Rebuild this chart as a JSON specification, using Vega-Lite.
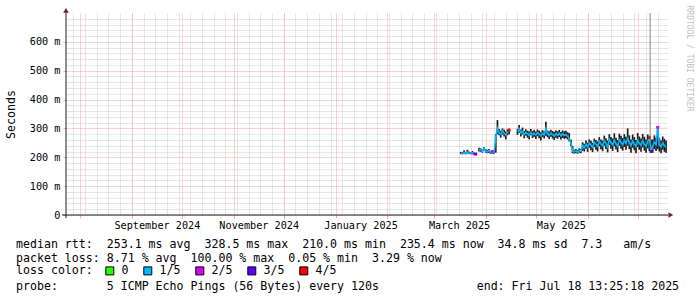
{
  "$schema": "https://vega.github.io/schema/vega-lite/v6.json",
  "width": 601,
  "height": 202,
  "autosize": {"type": "none"},
  "padding": {"left": 66, "top": 13, "right": 30, "bottom": 82},
  "background": "white",
  "config": {"view": {"stroke": null}, "font": "DejaVu Sans Mono"},
  "title": {
    "text": ["median rtt:\u00a0\u00a0253.1 ms avg\u00a0\u00a0328.5 ms max\u00a0\u00a0210.0 ms min\u00a0\u00a0235.4 ms now\u00a0\u00a034.8 ms sd\u00a0\u00a07.3\u00a0\u00a0\u00a0am/s", "packet loss: 8.71 % avg\u00a0\u00a0100.00 % max\u00a0\u00a00.05 % min\u00a0\u00a03.29 % now"],
    "subtitle": "probe:\u00a0\u00a0\u00a0\u00a0\u00a0\u00a0\u00a05 ICMP Echo Pings (56 Bytes) every 120s\u00a0\u00a0\u00a0\u00a0\u00a0\u00a0\u00a0\u00a0\u00a0\u00a0\u00a0\u00a0\u00a0\u00a0end: Fri Jul 18 13:25:18 2025",
    "orient": "bottom",
    "anchor": "start",
    "frame": "group",
    "dx": -50,
    "offset": -38,
    "font": "DejaVu Sans Mono",
    "fontSize": 11.6,
    "fontWeight": "normal",
    "color": "black",
    "lineHeight": 14,
    "subtitleFont": "DejaVu Sans Mono",
    "subtitleFontSize": 11.6,
    "subtitleColor": "black",
    "subtitleLineHeight": 14,
    "subtitlePadding": 16
  },
  "datasets": {
    "spike": [{"t": "2025-07-08T12:00:00Z", "lo": 254, "hi": 700}],
    "rtt": [
      {"t": "2025-03-17", "med": 215, "lo": 211, "hi": 219, "loss": "1/5", "seg": 1},
      {"t": "2025-03-18", "med": 213, "lo": 210, "hi": 218, "loss": "1/5", "seg": 1},
      {"t": "2025-03-19", "med": 217, "lo": 212, "hi": 224, "loss": "1/5", "seg": 1},
      {"t": "2025-03-20", "med": 214, "lo": 210, "hi": 219, "loss": "1/5", "seg": 1},
      {"t": "2025-03-21", "med": 218, "lo": 213, "hi": 226, "loss": "1/5", "seg": 1},
      {"t": "2025-03-22", "med": 215, "lo": 211, "hi": 220, "loss": "1/5", "seg": 1},
      {"t": "2025-03-23", "med": 213, "lo": 210, "hi": 217, "loss": "1/5", "seg": 1},
      {"t": "2025-03-24", "med": 216, "lo": 212, "hi": 222, "loss": "1/5", "seg": 1},
      {"t": "2025-03-25", "med": 212, "lo": 210, "hi": 216, "loss": "2/5", "seg": 1},
      {"t": "2025-03-26", "med": 211, "lo": 210, "hi": 215, "loss": "3/5", "seg": 1},
      {"t": "2025-03-28", "med": 228, "lo": 220, "hi": 233, "loss": "1/5", "seg": 2},
      {"t": "2025-03-29", "med": 225, "lo": 219, "hi": 231, "loss": "1/5", "seg": 2},
      {"t": "2025-03-30", "med": 221, "lo": 216, "hi": 227, "loss": "1/5", "seg": 2},
      {"t": "2025-03-31", "med": 231, "lo": 223, "hi": 235, "loss": "1/5", "seg": 2},
      {"t": "2025-04-01", "med": 222, "lo": 216, "hi": 228, "loss": "1/5", "seg": 2},
      {"t": "2025-04-02", "med": 219, "lo": 214, "hi": 226, "loss": "1/5", "seg": 2},
      {"t": "2025-04-03", "med": 224, "lo": 215, "hi": 229, "loss": "1/5", "seg": 2},
      {"t": "2025-04-04", "med": 217, "lo": 212, "hi": 222, "loss": "1/5", "seg": 2},
      {"t": "2025-04-05", "med": 220, "lo": 213, "hi": 224, "loss": "2/5", "seg": 2},
      {"t": "2025-04-06", "med": 215, "lo": 211, "hi": 220, "loss": "1/5", "seg": 2},
      {"t": "2025-04-07", "med": 272, "lo": 216, "hi": 280, "loss": "1/5", "seg": 2},
      {"t": "2025-04-08", "med": 300, "lo": 280, "hi": 329, "loss": "1/5", "seg": 2},
      {"t": "2025-04-09", "med": 286, "lo": 276, "hi": 298, "loss": "1/5", "seg": 2},
      {"t": "2025-04-10", "med": 280, "lo": 268, "hi": 292, "loss": "1/5", "seg": 2},
      {"t": "2025-04-11", "med": 291, "lo": 279, "hi": 300, "loss": "1/5", "seg": 2},
      {"t": "2025-04-12", "med": 283, "lo": 272, "hi": 295, "loss": "1/5", "seg": 2},
      {"t": "2025-04-13", "med": 277, "lo": 262, "hi": 289, "loss": "1/5", "seg": 2},
      {"t": "2025-04-14", "med": 288, "lo": 276, "hi": 297, "loss": "1/5", "seg": 2},
      {"t": "2025-04-15", "med": 293, "lo": 280, "hi": 300, "loss": "4/5", "seg": 2},
      {"t": "2025-04-20", "med": 289, "lo": 278, "hi": 298, "loss": "1/5", "seg": 3},
      {"t": "2025-04-21", "med": 298, "lo": 285, "hi": 312, "loss": "1/5", "seg": 3},
      {"t": "2025-04-22", "med": 284, "lo": 272, "hi": 296, "loss": "1/5", "seg": 3},
      {"t": "2025-04-23", "med": 290, "lo": 279, "hi": 303, "loss": "1/5", "seg": 3},
      {"t": "2025-04-24", "med": 279, "lo": 266, "hi": 291, "loss": "1/5", "seg": 3},
      {"t": "2025-04-25", "med": 286, "lo": 275, "hi": 297, "loss": "1/5", "seg": 3},
      {"t": "2025-04-26", "med": 281, "lo": 268, "hi": 292, "loss": "1/5", "seg": 3},
      {"t": "2025-04-27", "med": 276, "lo": 262, "hi": 290, "loss": "1/5", "seg": 3},
      {"t": "2025-04-28", "med": 287, "lo": 276, "hi": 298, "loss": "1/5", "seg": 3},
      {"t": "2025-04-29", "med": 279, "lo": 267, "hi": 291, "loss": "1/5", "seg": 3},
      {"t": "2025-04-30", "med": 284, "lo": 271, "hi": 295, "loss": "1/5", "seg": 3},
      {"t": "2025-05-01", "med": 277, "lo": 264, "hi": 289, "loss": "1/5", "seg": 3},
      {"t": "2025-05-02", "med": 285, "lo": 273, "hi": 296, "loss": "1/5", "seg": 3},
      {"t": "2025-05-03", "med": 280, "lo": 266, "hi": 292, "loss": "1/5", "seg": 3},
      {"t": "2025-05-04", "med": 274, "lo": 258, "hi": 287, "loss": "1/5", "seg": 3},
      {"t": "2025-05-05", "med": 283, "lo": 270, "hi": 294, "loss": "1/5", "seg": 3},
      {"t": "2025-05-06", "med": 278, "lo": 265, "hi": 290, "loss": "1/5", "seg": 3},
      {"t": "2025-05-07", "med": 300, "lo": 275, "hi": 323, "loss": "1/5", "seg": 3},
      {"t": "2025-05-08", "med": 282, "lo": 269, "hi": 293, "loss": "1/5", "seg": 3},
      {"t": "2025-05-09", "med": 276, "lo": 263, "hi": 290, "loss": "1/5", "seg": 3},
      {"t": "2025-05-10", "med": 284, "lo": 271, "hi": 295, "loss": "1/5", "seg": 3},
      {"t": "2025-05-11", "med": 279, "lo": 265, "hi": 291, "loss": "1/5", "seg": 3},
      {"t": "2025-05-12", "med": 273, "lo": 260, "hi": 288, "loss": "1/5", "seg": 3},
      {"t": "2025-05-13", "med": 282, "lo": 268, "hi": 294, "loss": "1/5", "seg": 3},
      {"t": "2025-05-14", "med": 277, "lo": 264, "hi": 290, "loss": "1/5", "seg": 3},
      {"t": "2025-05-15", "med": 283, "lo": 270, "hi": 295, "loss": "1/5", "seg": 3},
      {"t": "2025-05-16", "med": 275, "lo": 262, "hi": 288, "loss": "1/5", "seg": 3},
      {"t": "2025-05-17", "med": 281, "lo": 267, "hi": 293, "loss": "1/5", "seg": 3},
      {"t": "2025-05-18", "med": 276, "lo": 264, "hi": 290, "loss": "1/5", "seg": 3},
      {"t": "2025-05-19", "med": 279, "lo": 266, "hi": 292, "loss": "1/5", "seg": 3},
      {"t": "2025-05-20", "med": 274, "lo": 262, "hi": 287, "loss": "1/5", "seg": 3},
      {"t": "2025-05-21", "med": 264, "lo": 255, "hi": 284, "loss": "1/5", "seg": 3},
      {"t": "2025-05-22", "med": 248, "lo": 238, "hi": 262, "loss": "1/5", "seg": 3},
      {"t": "2025-05-23", "med": 222, "lo": 214, "hi": 240, "loss": "1/5", "seg": 3},
      {"t": "2025-05-24", "med": 219, "lo": 213, "hi": 226, "loss": "1/5", "seg": 3},
      {"t": "2025-05-25", "med": 223, "lo": 215, "hi": 229, "loss": "1/5", "seg": 3},
      {"t": "2025-05-26", "med": 218, "lo": 212, "hi": 225, "loss": "1/5", "seg": 3},
      {"t": "2025-05-27", "med": 224, "lo": 216, "hi": 231, "loss": "1/5", "seg": 3},
      {"t": "2025-05-28", "med": 221, "lo": 214, "hi": 228, "loss": "1/5", "seg": 3},
      {"t": "2025-05-29", "med": 240, "lo": 222, "hi": 252, "loss": "1/5", "seg": 3},
      {"t": "2025-05-30", "med": 233, "lo": 220, "hi": 247, "loss": "1/5", "seg": 3},
      {"t": "2025-05-31", "med": 246, "lo": 230, "hi": 258, "loss": "1/5", "seg": 3},
      {"t": "2025-06-01", "med": 236, "lo": 219, "hi": 251, "loss": "1/5", "seg": 3},
      {"t": "2025-06-02", "med": 250, "lo": 233, "hi": 262, "loss": "1/5", "seg": 3},
      {"t": "2025-06-03", "med": 241, "lo": 224, "hi": 257, "loss": "1/5", "seg": 3},
      {"t": "2025-06-04", "med": 235, "lo": 218, "hi": 250, "loss": "1/5", "seg": 3},
      {"t": "2025-06-05", "med": 253, "lo": 236, "hi": 265, "loss": "1/5", "seg": 3},
      {"t": "2025-06-06", "med": 244, "lo": 226, "hi": 260, "loss": "1/5", "seg": 3},
      {"t": "2025-06-07", "med": 238, "lo": 220, "hi": 255, "loss": "1/5", "seg": 3},
      {"t": "2025-06-08", "med": 255, "lo": 238, "hi": 270, "loss": "1/5", "seg": 3},
      {"t": "2025-06-09", "med": 246, "lo": 228, "hi": 262, "loss": "1/5", "seg": 3},
      {"t": "2025-06-10", "med": 240, "lo": 221, "hi": 258, "loss": "1/5", "seg": 3},
      {"t": "2025-06-11", "med": 258, "lo": 240, "hi": 275, "loss": "1/5", "seg": 3},
      {"t": "2025-06-12", "med": 248, "lo": 229, "hi": 266, "loss": "1/5", "seg": 3},
      {"t": "2025-06-13", "med": 236, "lo": 217, "hi": 258, "loss": "1/5", "seg": 3},
      {"t": "2025-06-14", "med": 262, "lo": 242, "hi": 280, "loss": "1/5", "seg": 3},
      {"t": "2025-06-15", "med": 250, "lo": 230, "hi": 270, "loss": "1/5", "seg": 3},
      {"t": "2025-06-16", "med": 243, "lo": 222, "hi": 265, "loss": "1/5", "seg": 3},
      {"t": "2025-06-17", "med": 259, "lo": 238, "hi": 283, "loss": "1/5", "seg": 3},
      {"t": "2025-06-18", "med": 247, "lo": 227, "hi": 268, "loss": "1/5", "seg": 3},
      {"t": "2025-06-19", "med": 239, "lo": 218, "hi": 260, "loss": "1/5", "seg": 3},
      {"t": "2025-06-20", "med": 261, "lo": 240, "hi": 282, "loss": "1/5", "seg": 3},
      {"t": "2025-06-21", "med": 252, "lo": 230, "hi": 275, "loss": "1/5", "seg": 3},
      {"t": "2025-06-22", "med": 244, "lo": 223, "hi": 267, "loss": "1/5", "seg": 3},
      {"t": "2025-06-23", "med": 258, "lo": 236, "hi": 280, "loss": "1/5", "seg": 3},
      {"t": "2025-06-24", "med": 248, "lo": 226, "hi": 271, "loss": "1/5", "seg": 3},
      {"t": "2025-06-25", "med": 265, "lo": 240, "hi": 300, "loss": "1/5", "seg": 3},
      {"t": "2025-06-26", "med": 251, "lo": 228, "hi": 276, "loss": "1/5", "seg": 3},
      {"t": "2025-06-27", "med": 240, "lo": 216, "hi": 262, "loss": "1/5", "seg": 3},
      {"t": "2025-06-28", "med": 256, "lo": 233, "hi": 279, "loss": "1/5", "seg": 3},
      {"t": "2025-06-29", "med": 246, "lo": 224, "hi": 270, "loss": "1/5", "seg": 3},
      {"t": "2025-06-30", "med": 238, "lo": 214, "hi": 260, "loss": "1/5", "seg": 3},
      {"t": "2025-07-01", "med": 259, "lo": 235, "hi": 284, "loss": "1/5", "seg": 3},
      {"t": "2025-07-02", "med": 249, "lo": 226, "hi": 272, "loss": "1/5", "seg": 3},
      {"t": "2025-07-03", "med": 241, "lo": 219, "hi": 265, "loss": "1/5", "seg": 3},
      {"t": "2025-07-04", "med": 257, "lo": 234, "hi": 281, "loss": "1/5", "seg": 3},
      {"t": "2025-07-05", "med": 246, "lo": 223, "hi": 271, "loss": "1/5", "seg": 3},
      {"t": "2025-07-06", "med": 238, "lo": 216, "hi": 262, "loss": "1/5", "seg": 3},
      {"t": "2025-07-07", "med": 255, "lo": 231, "hi": 279, "loss": "1/5", "seg": 3},
      {"t": "2025-07-08", "med": 268, "lo": 221, "hi": 274, "loss": "4/5", "seg": 3},
      {"t": "2025-07-09", "med": 220, "lo": 216, "hi": 262, "loss": "3/5", "seg": 3},
      {"t": "2025-07-10", "med": 239, "lo": 216, "hi": 262, "loss": "1/5", "seg": 3},
      {"t": "2025-07-11", "med": 252, "lo": 228, "hi": 276, "loss": "1/5", "seg": 3},
      {"t": "2025-07-12", "med": 244, "lo": 222, "hi": 268, "loss": "1/5", "seg": 3},
      {"t": "2025-07-13", "med": 304, "lo": 228, "hi": 306, "loss": "2/5", "seg": 3},
      {"t": "2025-07-14", "med": 243, "lo": 220, "hi": 266, "loss": "1/5", "seg": 3},
      {"t": "2025-07-15", "med": 236, "lo": 214, "hi": 258, "loss": "1/5", "seg": 3},
      {"t": "2025-07-16", "med": 250, "lo": 226, "hi": 272, "loss": "1/5", "seg": 3},
      {"t": "2025-07-17", "med": 241, "lo": 219, "hi": 264, "loss": "1/5", "seg": 3},
      {"t": "2025-07-18", "med": 235, "lo": 216, "hi": 258, "loss": "1/5", "seg": 3}
    ]
  },
  "resolve": {"axis": {"x": "independent", "y": "independent"}},
  "layer": [
    {
      "data": {"name": "rtt"},
      "mark": {"type": "rule", "color": "#1e1e1e", "strokeWidth": 1.7},
      "encoding": {
        "x": {
          "field": "t", "type": "temporal",
          "scale": {"type": "utc", "nice": false, "domain": [{"year": 2024, "month": 7, "date": 23, "hours": 13, "minutes": 25, "seconds": 18, "utc": true}, {"year": 2025, "month": 7, "date": 18, "hours": 13, "minutes": 25, "seconds": 18, "utc": true}]},
          "axis": {"orient": "bottom", "tickCount": {"interval": "week", "step": 1}, "grid": true, "gridColor": "#cccccc", "gridDash": [1, 1], "gridWidth": 1, "labels": false, "ticks": false, "domain": false, "title": null}
        },
        "y": {
          "field": "lo", "type": "quantitative",
          "scale": {"domain": [0, 700], "nice": false, "zero": true},
          "axis": {"orient": "left", "values": [20, 40, 60, 80, 120, 140, 160, 180, 220, 240, 260, 280, 320, 340, 360, 380, 420, 440, 460, 480, 520, 540, 560, 580, 620, 640, 660, 680], "grid": true, "gridColor": "#cccccc", "gridDash": [1, 1], "labels": false, "ticks": false, "domain": false, "title": null}
        },
        "y2": {"field": "hi"}
      }
    },
    {
      "data": {"name": "spike"},
      "mark": {"type": "rule", "color": "#9a9a9a", "strokeWidth": 1.2},
      "encoding": {
        "x": {"field": "t", "type": "temporal", "axis": null},
        "y": {"field": "lo", "type": "quantitative", "axis": null},
        "y2": {"field": "hi"}
      }
    },
    {
      "data": {"name": "rtt"},
      "mark": {"type": "line", "color": "#00b8ff", "strokeWidth": 1.6},
      "encoding": {
        "x": {
          "field": "t", "type": "temporal",
          "axis": {"orient": "bottom", "tickCount": {"interval": "month", "step": 1}, "grid": true, "gridColor": "#f0a6a6", "gridDash": [1, 1], "ticks": true, "tickSize": 3, "tickColor": "#f0a6a6", "labels": false, "domain": false, "title": null}
        },
        "y": {
          "field": "med", "type": "quantitative",
          "axis": {"orient": "left", "values": [0, 100, 200, 300, 400, 500, 600], "grid": true, "gridColor": "#f0a6a6", "gridDash": [1, 1], "ticks": true, "tickSize": 3, "tickColor": "#f0a6a6", "domain": false, "labelFont": "DejaVu Sans Mono", "labelFontSize": 10.2, "labelColor": "black", "labelPadding": 3, "labelExpr": "datum.value == 0 ? '0\u00a0\u00a0' : datum.value + ' m'", "title": "Seconds", "titleFont": "DejaVu Sans Mono", "titleFontSize": 11.6, "titleFontWeight": "normal", "titleColor": "black", "titleX": -55, "titleY": 101, "titleAngle": -90, "titleAlign": "center", "titleBaseline": "middle"}
        },
        "detail": {"field": "seg", "type": "nominal"}
      }
    },
    {
      "data": {"name": "rtt"},
      "transform": [{"filter": "datum.loss != '1/5'"}],
      "mark": {"type": "point", "shape": "square", "filled": true, "size": 8, "opacity": 1},
      "encoding": {
        "x": {
          "field": "t", "type": "temporal",
          "axis": {"orient": "bottom", "values": [{"year": 2024, "month": 9, "date": 16, "utc": true}, {"year": 2024, "month": 11, "date": 16, "utc": true}, {"year": 2025, "month": 1, "date": 16, "utc": true}, {"year": 2025, "month": 3, "date": 16, "utc": true}, {"year": 2025, "month": 5, "date": 16, "utc": true}], "format": "%B %Y", "grid": false, "ticks": false, "domain": false, "labelFont": "DejaVu Sans Mono", "labelFontSize": 10.2, "labelColor": "black", "labelPadding": 5, "labelFlush": false, "labelOverlap": false, "title": null}
        },
        "y": {
          "field": "med", "type": "quantitative",
          "axis": {"orient": "right", "labels": false, "ticks": false, "domain": false, "grid": false, "title": "RRDTOOL / TOBI OETIKER", "titleFont": "DejaVu Sans Mono", "titleFontSize": 8, "titleFontWeight": "normal", "titleColor": "#c0c0c0", "titleAngle": 90, "titleAlign": "left", "titleBaseline": "middle", "titleX": 21, "titleY": -8}
        },
        "color": {
          "field": "loss", "type": "nominal",
          "scale": {"domain": ["0", "1/5", "2/5", "3/5", "4/5"], "range": ["#26ff00", "#00b8ff", "#dd00ff", "#5e00ff", "#ff0000"]},
          "legend": {"orient": "none", "legendX": -50, "legendY": 252, "direction": "horizontal", "title": "loss color:", "titleOrient": "left", "titleFont": "DejaVu Sans Mono", "titleFontSize": 11.6, "titleFontWeight": "normal", "titleColor": "black", "titlePadding": 11, "labelFont": "DejaVu Sans Mono", "labelFontSize": 11.6, "labelColor": "black", "labelOffset": 6, "columnPadding": 12, "symbolType": "square", "symbolSize": 64, "symbolStrokeColor": "black", "symbolStrokeWidth": 1, "symbolOpacity": 1, "padding": 0}
        }
      }
    },
    {
      "data": {"values": [{}]},
      "mark": {"type": "rule", "color": "#1f1f1f", "strokeWidth": 1},
      "encoding": {
        "x": {"datum": {"year": 2024, "month": 7, "date": 21, "hours": 4, "utc": true}, "type": "temporal", "axis": null},
        "x2": {"datum": {"year": 2025, "month": 7, "date": 19, "hours": 4, "utc": true}},
        "y": {"datum": 0, "type": "quantitative", "axis": null}
      }
    },
    {
      "data": {"values": [{}]},
      "mark": {"type": "rule", "color": "#1f1f1f", "strokeWidth": 1},
      "encoding": {
        "x": {"datum": {"year": 2024, "month": 7, "date": 23, "hours": 13, "minutes": 25, "seconds": 18, "utc": true}, "type": "temporal", "axis": null},
        "y": {"datum": -11, "type": "quantitative", "axis": null},
        "y2": {"datum": 706}
      }
    },
    {
      "data": {"values": [{}]},
      "mark": {"type": "point", "shape": "triangle-right", "filled": true, "color": "#7f1f1f", "size": 32, "opacity": 1},
      "encoding": {
        "x": {"datum": {"year": 2025, "month": 7, "date": 20, "hours": 20, "utc": true}, "type": "temporal", "axis": null},
        "y": {"datum": 0, "type": "quantitative", "axis": null}
      }
    },
    {
      "data": {"values": [{}]},
      "mark": {"type": "point", "shape": "triangle-up", "filled": true, "color": "#7f1f1f", "size": 32, "opacity": 1},
      "encoding": {
        "x": {"datum": {"year": 2024, "month": 7, "date": 23, "hours": 13, "minutes": 25, "seconds": 18, "utc": true}, "type": "temporal", "axis": null},
        "y": {"datum": 709, "type": "quantitative", "axis": null}
      }
    }
  ]
}
